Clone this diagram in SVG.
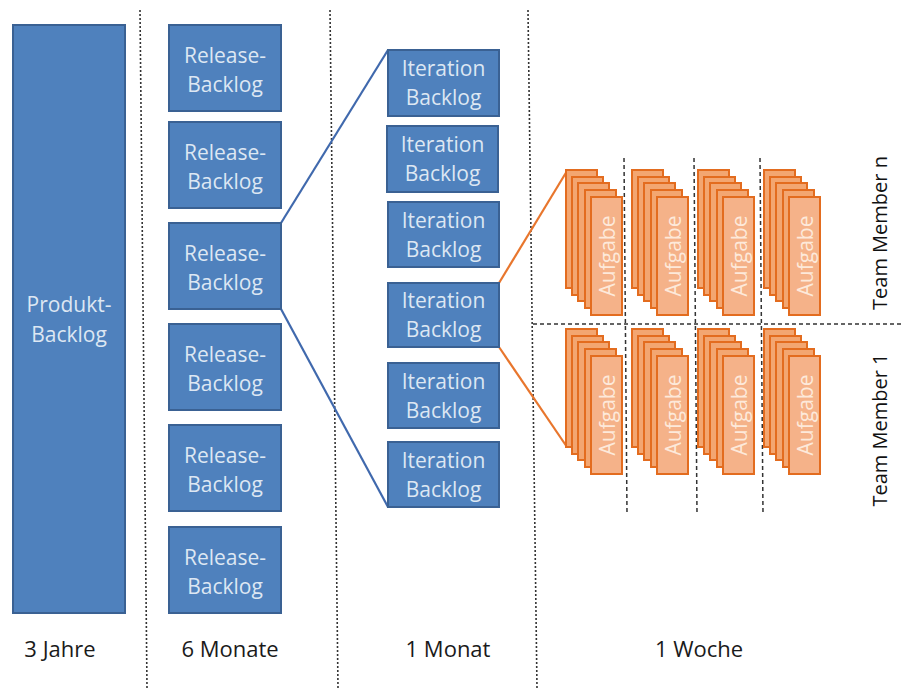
<svg xmlns="http://www.w3.org/2000/svg" width="904" height="688" viewBox="0 0 904 688">
<defs>
<style>
.bl{fill:#4f81bd;stroke:#3a6193;stroke-width:2}
.bt{font-family:"Open Sans","Liberation Sans",sans-serif;font-size:21px;fill:#dde7f3;text-anchor:middle}
.lab{font-family:"Open Sans","Liberation Sans",sans-serif;font-size:22px;fill:#1a1a1a;text-anchor:middle}
.tm{font-family:"Open Sans","Liberation Sans",sans-serif;font-size:20px;fill:#111;text-anchor:middle}
.dot{stroke:#333;stroke-width:1.6;stroke-dasharray:2 2;fill:none}
.dash{stroke:#333;stroke-width:1.5;stroke-dasharray:4 3;fill:none}
.or{fill:#f3a671;stroke:#e36c1f;stroke-width:2}
.of{fill:#f5b289;stroke:#e36c1f;stroke-width:2}
.ot{font-family:"Open Sans","Liberation Sans",sans-serif;font-size:21px;fill:#fde9da;text-anchor:middle;dominant-baseline:central}
.cb{stroke:#4069ad;stroke-width:2.2;fill:none}
.co{stroke:#e8762d;stroke-width:2.2;fill:none}
</style>
<g id="stack">
<rect class="or" x="0" y="0" width="31" height="118"/>
<rect class="or" x="6" y="7" width="31" height="118"/>
<rect class="or" x="12" y="13" width="31" height="118"/>
<rect class="or" x="19" y="20" width="31" height="118"/>
<rect class="of" x="25" y="27" width="31" height="118"/>
<text class="ot" transform="translate(40.5,86) rotate(-90)">Aufgabe</text>
</g>
</defs>
<rect width="904" height="688" fill="#fff"/>
<g id="separators">
<line class="dot" x1="140" y1="10" x2="147" y2="688"/>
<line class="dot" x1="330" y1="10" x2="338" y2="688"/>
<line class="dot" x1="528" y1="10" x2="537" y2="688"/>
<line class="dash" x1="533" y1="324" x2="904" y2="324"/>
<line class="dash" x1="624" y1="158" x2="627" y2="514"/>
<line class="dash" x1="694" y1="158" x2="697" y2="514"/>
<line class="dash" x1="760" y1="158" x2="763" y2="514"/>
</g>
<g id="connectors">
<line class="cb" x1="281" y1="223" x2="388" y2="50"/>
<line class="cb" x1="281" y1="309" x2="388" y2="507"/>
<line class="co" x1="499" y1="283" x2="567" y2="171"/>
<line class="co" x1="499" y1="347" x2="567" y2="447"/>
</g>
<g id="produkt-backlog">
<rect class="bl" x="13" y="25" width="112" height="588"/>
<text class="bt" x="69" y="312">Produkt-</text>
<text class="bt" x="69" y="342">Backlog</text>
</g>
<g id="release-1"><rect class="bl" x="169" y="25" width="112" height="86"/><text class="bt" x="225" y="63">Release-</text><text class="bt" x="225" y="92">Backlog</text></g>
<g id="release-2"><rect class="bl" x="169" y="122" width="112" height="86"/><text class="bt" x="225" y="160">Release-</text><text class="bt" x="225" y="189">Backlog</text></g>
<g id="release-3"><rect class="bl" x="169" y="223" width="112" height="86"/><text class="bt" x="225" y="261">Release-</text><text class="bt" x="225" y="290">Backlog</text></g>
<g id="release-4"><rect class="bl" x="169" y="324" width="112" height="86"/><text class="bt" x="225" y="362">Release-</text><text class="bt" x="225" y="391">Backlog</text></g>
<g id="release-5"><rect class="bl" x="169" y="425" width="112" height="86"/><text class="bt" x="225" y="463">Release-</text><text class="bt" x="225" y="492">Backlog</text></g>
<g id="release-6"><rect class="bl" x="169" y="527" width="112" height="86"/><text class="bt" x="225" y="565">Release-</text><text class="bt" x="225" y="594">Backlog</text></g>
<g id="iteration-1"><rect class="bl" x="388" y="50" width="111" height="66"/><text class="bt" x="443.5" y="76">Iteration</text><text class="bt" x="443.5" y="105">Backlog</text></g>
<g id="iteration-2"><rect class="bl" x="387" y="126" width="111" height="66"/><text class="bt" x="442.5" y="152">Iteration</text><text class="bt" x="442.5" y="181">Backlog</text></g>
<g id="iteration-3"><rect class="bl" x="388" y="202" width="111" height="65"/><text class="bt" x="443.5" y="228">Iteration</text><text class="bt" x="443.5" y="257">Backlog</text></g>
<g id="iteration-4"><rect class="bl" x="388" y="283" width="111" height="64"/><text class="bt" x="443.5" y="308">Iteration</text><text class="bt" x="443.5" y="337">Backlog</text></g>
<g id="iteration-5"><rect class="bl" x="388" y="363" width="111" height="65"/><text class="bt" x="443.5" y="389">Iteration</text><text class="bt" x="443.5" y="418">Backlog</text></g>
<g id="iteration-6"><rect class="bl" x="388" y="442" width="111" height="65"/><text class="bt" x="443.5" y="468">Iteration</text><text class="bt" x="443.5" y="497">Backlog</text></g>
<g id="aufgabe-n-1"><use href="#stack" x="566" y="170"/></g>
<g id="aufgabe-n-2"><use href="#stack" x="632" y="170"/></g>
<g id="aufgabe-n-3"><use href="#stack" x="698" y="170"/></g>
<g id="aufgabe-n-4"><use href="#stack" x="764" y="170"/></g>
<g id="aufgabe-1-1"><use href="#stack" x="566" y="329"/></g>
<g id="aufgabe-1-2"><use href="#stack" x="632" y="329"/></g>
<g id="aufgabe-1-3"><use href="#stack" x="698" y="329"/></g>
<g id="aufgabe-1-4"><use href="#stack" x="764" y="329"/></g>
<g id="team-labels">
<text class="tm" transform="translate(887,233) rotate(-90)">Team Member n</text>
<text class="tm" transform="translate(887,430) rotate(-90)">Team Member 1</text>
</g>
<g id="time-labels">
<text class="lab" x="60" y="657">3 Jahre</text>
<text class="lab" x="230" y="657">6 Monate</text>
<text class="lab" x="448" y="657">1 Monat</text>
<text class="lab" x="699" y="657">1 Woche</text>
</g>
</svg>
